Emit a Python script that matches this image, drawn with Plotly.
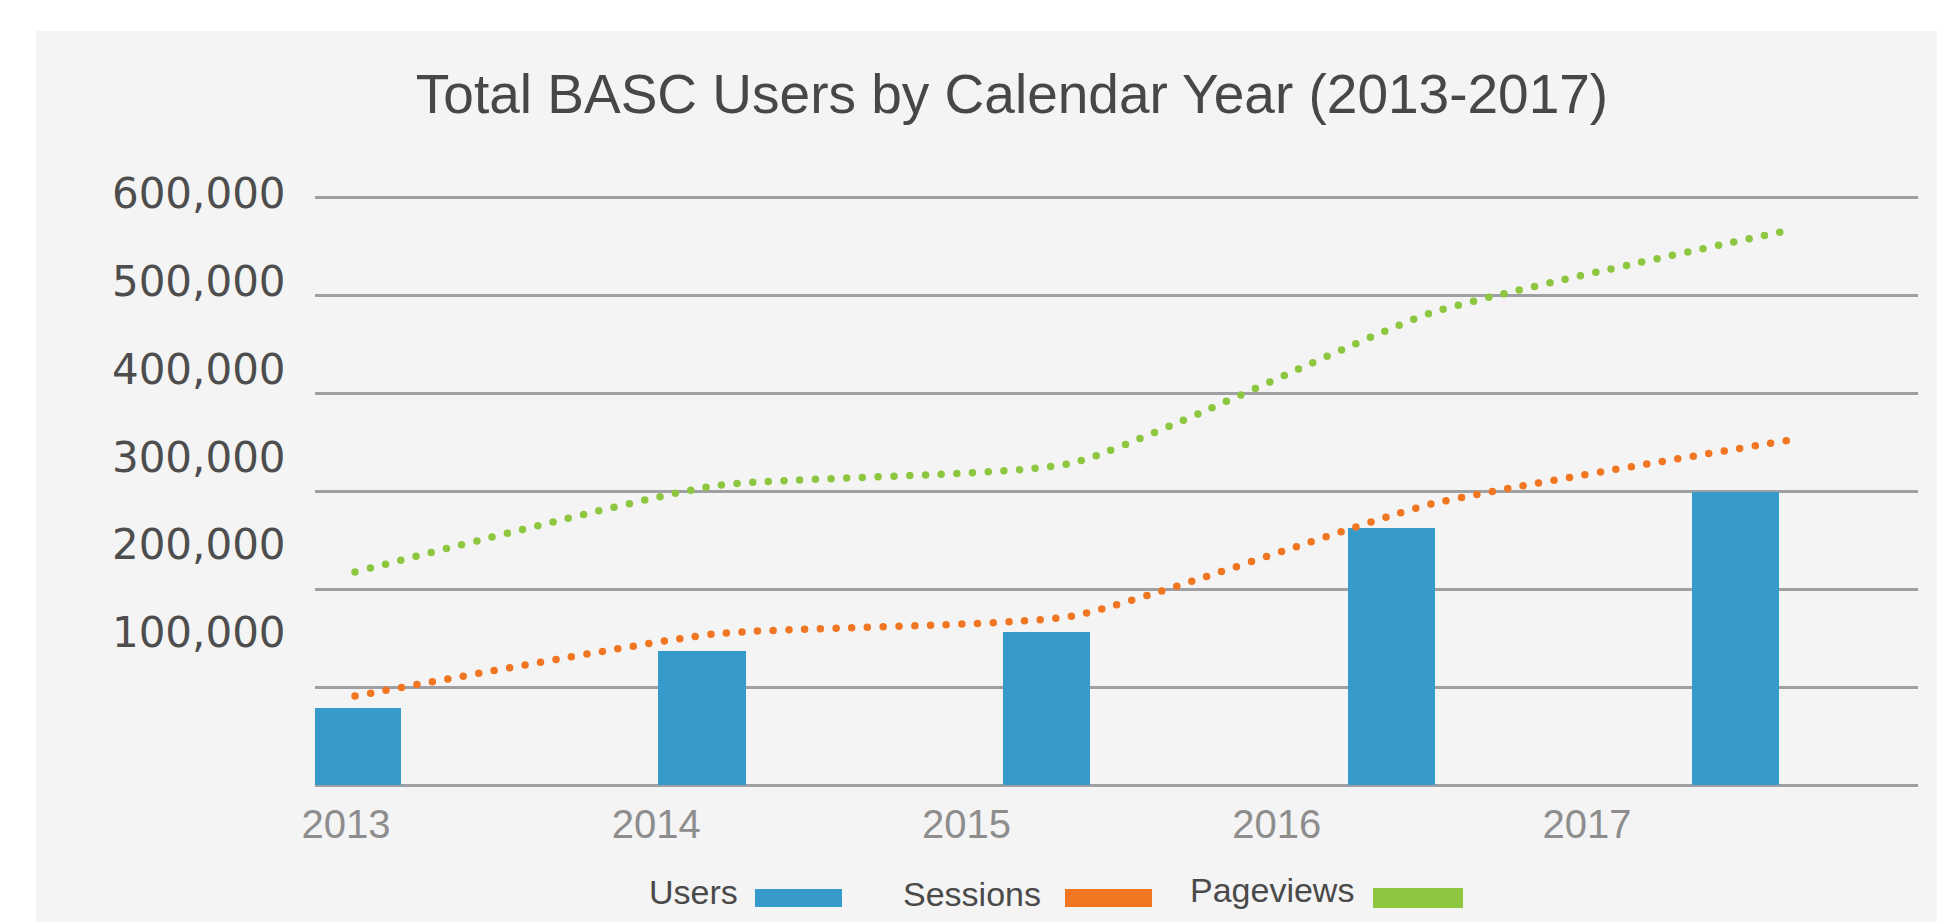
import plotly.graph_objects as go

# ---------------- data ----------------
years = [2013, 2014, 2015, 2016, 2017]
year_labels = ["2013", "2014", "2015", "2016", "2017"]
users = [78800, 137000, 156400, 262500, 299500]
sessions = [91000, 154300, 172700, 287000, 352300]
pageviews = [217600, 305400, 328900, 482000, 566700]
y_ticks = [0, 100000, 200000, 300000, 400000, 500000, 600000]
y_label_vals = [100000, 200000, 300000, 400000, 500000, 600000]
y_label_text = ["100,000", "200,000", "300,000", "400,000", "500,000", "600,000"]
title_text = "Total BASC Users by Calendar Year (2013-2017)"
legend_names = ["Users", "Sessions", "Pageviews"]

BLUE = "#369aca"
ORANGE = "#f07622"
GREEN = "#8dc63f"
GRID = "#9fa0a4"
PANEL = "#f4f4f4"

W, H = 1937, 922
ML, MR, MT, MB = 315, 19, 170, 134
PW = W - ML - MR
PH = H - MT - MB


def px_x(p):
    return (p - ML) / PW


def px_y(p):
    return (H - MB - p) / PH


fig = go.Figure()
fig.add_trace(go.Bar(x=years, y=users, width=0.253, marker=dict(color=BLUE, line=dict(width=0)),
                     xaxis="x", yaxis="y", showlegend=False, name="Users"))
dots = "0px,15.7px"
fig.add_trace(go.Scatter(x=years, y=sessions, mode="lines", name="Sessions",
                         line=dict(color=ORANGE, width=7.5, dash=dots, shape="spline", smoothing=0.5),
                         xaxis="x2", yaxis="y", showlegend=False))
fig.add_trace(go.Scatter(x=years, y=pageviews, mode="lines", name="Pageviews",
                         line=dict(color=GREEN, width=7.5, dash=dots, shape="spline", smoothing=0.5),
                         xaxis="x2", yaxis="y", showlegend=False))
# carrier for the label axes
fig.add_trace(go.Scatter(x=years, y=users, mode="markers", marker=dict(opacity=0),
                         xaxis="x3", yaxis="y2", showlegend=False, hoverinfo="skip"))

shapes = [dict(type="rect", xref="paper", yref="paper", x0=px_x(36), x1=px_x(W + 5),
               y0=px_y(H + 5), y1=px_y(31), fillcolor=PANEL, line=dict(width=0), layer="below")]

annotations = []
leg_text_x = [649, 903, 1190]
leg_text_y = [892, 894, 890]
sw_x = [(755, 842), (1065, 1152), (1373, 1463)]
sw_y = [(889, 907), (889, 907), (888, 908)]
for name, tx, ty, (sx0, sx1), (sy0, sy1), col in zip(legend_names, leg_text_x, leg_text_y, sw_x, sw_y,
                                                       [BLUE, ORANGE, GREEN]):
    annotations.append(dict(text=name, xref="paper", yref="paper", x=px_x(tx - 2), y=px_y(ty),
                            xanchor="left", yanchor="middle", showarrow=False,
                            font=dict(family="Liberation Sans", size=34, color="#4a4a4a")))
    shapes.append(dict(type="rect", xref="paper", yref="paper", x0=px_x(sx0), x1=px_x(sx1),
                       y0=px_y(sy1), y1=px_y(sy0), fillcolor=col, line=dict(width=0)))

fig.update_layout(
    width=W, height=H,
    margin=dict(l=ML, r=MR, t=MT, b=MB, pad=0),
    paper_bgcolor="white", plot_bgcolor="rgba(0,0,0,0)",
    title=dict(text=title_text, x=1012 / W, xanchor="center", xref="container",
               y=1 - 94 / H, yref="container", yanchor="middle",
               font=dict(family="Liberation Sans", size=55, color="#474747")),
    xaxis=dict(domain=[0, 1], range=[2012.8769, 2017.5287], visible=False),
    xaxis2=dict(overlaying="x", range=[2012.8885, 2017.3568], visible=False),
    xaxis3=dict(overlaying="x", range=[2012.9001, 2018.0669], tickmode="array",
                tickvals=years, ticktext=year_labels, showgrid=False, zeroline=False,
                showline=False, ticks="outside", ticklen=1, tickcolor="rgba(0,0,0,0)",
                tickfont=dict(family="Liberation Sans", size=40, color="#8d8d8d")),
    yaxis=dict(range=[-2858, 627883], tickmode="array", tickvals=y_ticks,
               showticklabels=False, showgrid=True, gridcolor=GRID, gridwidth=2.6,
               zeroline=False, showline=False),
    yaxis2=dict(overlaying="y", side="left", range=[-77221, 626651], tickmode="array",
                tickvals=y_label_vals, ticktext=y_label_text, showgrid=False, zeroline=False,
                showline=False, ticks="outside", ticklen=20, tickcolor="rgba(0,0,0,0)",
                tickfont=dict(family="DejaVu Sans", size=42, color="#4d4d4d")),
    shapes=shapes,
    annotations=annotations,
    bargap=0,
)

post = """
document.body.style.margin='0';
document.body.style.overflow='hidden';
var gd = document.getElementById('{plot_id}');
gd.querySelectorAll('.scatterlayer .js-line').forEach(function(p){p.style.strokeLinecap='round';});
"""
fig.write_html("out.html", include_plotlyjs=True, config={"displayModeBar": False}, post_script=post)
